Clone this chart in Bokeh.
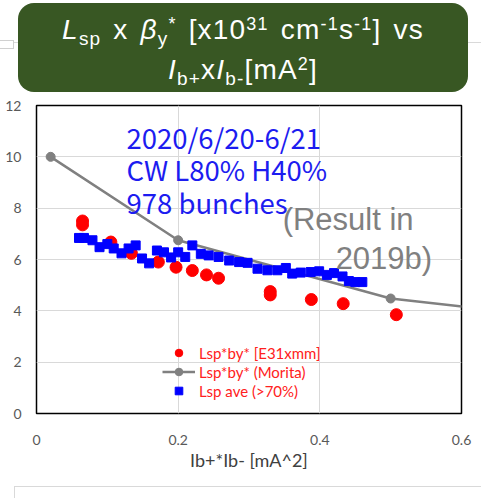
from bokeh.plotting import figure
from bokeh.models import Div, Label, Range1d, FixedTicker
from bokeh.layouts import column
from bokeh.embed import file_html
from bokeh.resources import INLINE

# ---------------- data ----------------
x_ticks = [0, 0.2, 0.4, 0.6]
y_ticks = [0, 2, 4, 6, 8, 10, 12]

red_x = [0.065, 0.065, 0.105, 0.134, 0.172, 0.197, 0.220, 0.240, 0.257, 0.330, 0.330, 0.388, 0.433, 0.508]
red_y = [7.50, 7.35, 6.68, 6.24, 5.90, 5.70, 5.57, 5.40, 5.27, 4.75, 4.62, 4.44, 4.28, 3.85]

morita_x = [0.02, 0.2, 0.5, 0.8]
morita_y = [10.0, 6.75, 4.48, 3.55]

blue_x = [0.060, 0.067, 0.079, 0.089, 0.100, 0.109, 0.120, 0.130, 0.140, 0.149,
          0.159, 0.170, 0.180, 0.190, 0.200, 0.210, 0.220, 0.232, 0.243, 0.257,
          0.272, 0.286, 0.298, 0.312, 0.326, 0.340, 0.352, 0.361, 0.373, 0.387,
          0.399, 0.410, 0.420, 0.432, 0.441, 0.450, 0.460]
blue_y = [6.84, 6.84, 6.75, 6.48, 6.60, 6.43, 6.24, 6.43, 6.55, 6.04,
          5.85, 6.35, 6.28, 6.08, 6.28, 6.10, 6.55, 6.22, 6.16, 6.10,
          5.96, 5.90, 5.87, 5.64, 5.58, 5.58, 5.67, 5.45, 5.49, 5.51,
          5.54, 5.40, 5.47, 5.34, 5.16, 5.12, 5.12]

series_names = ["Lsp*by* [E31xmm]", "Lsp*by* (Morita)", "Lsp ave (>70%)"]
info_lines = ["2020/6/20-6/21", "CW L80% H40%", "978 bunches"]
result_lines = ["(Result in", "2019b)"]
x_title = "Ib+*Ib- [mA^2]"

# ---------------- title box (HTML) ----------------
sub = "font-size:19px;position:relative;top:6px"
sup = "font-size:18px;position:relative;top:-9px"
line1 = (f'<i>L</i><span style="{sub}">sp</span> x <i>&beta;</i><span style="{sub}">y</span>'
         f'<span style="{sup}">*</span> [x10<span style="{sup}">31</span> cm<span style="{sup}">-1</span>'
         f's<span style="{sup}">-1</span>] vs')
line2 = (f'<i>I</i><span style="{sub}">b+</span>x<i>I</i><span style="{sub}">b-</span>'
         f'[mA<span style="{sup}">2</span>]')
lstyle = ("position:absolute;left:0;width:100%;text-align:center;white-space:nowrap;"
          "font-family:'Liberation Sans',Arial,sans-serif;font-size:28px;line-height:34px;color:white;"
          "letter-spacing:1.2px;word-spacing:3px;")
html = (
    '<div style="position:relative;width:481px;height:96px;overflow:hidden;">'
    '<div style="position:absolute;left:0;top:42px;width:481px;height:1px;background:#d9d9d9;"></div>'
    '<div style="position:absolute;left:0;top:40px;width:14px;height:9px;border:1px solid #d0d0d0;'
    'border-left:none;background:white;"></div>'
    '<div style="position:absolute;left:18px;top:3px;width:450px;height:89px;'
    'background:#385723;border-radius:16px;">'
    f'<div style="{lstyle}top:10px;">{line1}</div>'
    f'<div style="{lstyle}top:50px;">{line2}</div>'
    '</div></div>'
)
title_div = Div(text=html, width=481, height=96, margin=0)

foot_html = (
    '<div style="position:relative;width:481px;height:12px;overflow:hidden;">'
    '<div style="position:absolute;left:14px;top:0;width:467px;height:1px;background:#d9d9d9;"></div>'
    '<div style="position:absolute;left:14px;top:0;width:1px;height:12px;background:#d9d9d9;"></div>'
    '</div>'
)
foot_div = Div(text=foot_html, width=481, height=12, margin=0)

# ---------------- figure ----------------
p = figure(width=481, height=390, x_range=Range1d(0, 0.6), y_range=Range1d(0, 12),
           output_backend="svg", toolbar_location=None,
           min_border_left=36, min_border_right=20, min_border_top=9, min_border_bottom=73)
p.outline_line_color = "black"
p.outline_line_width = 1.5
p.background_fill_color = "white"
p.border_fill_color = "white"

p.xaxis.ticker = FixedTicker(ticks=x_ticks)
p.yaxis.ticker = FixedTicker(ticks=y_ticks)
for ax in (p.xaxis, p.yaxis):
    ax.axis_line_color = None
    ax.major_tick_line_color = None
    ax.minor_tick_line_color = None
    ax.major_tick_out = 0
    ax.major_tick_in = 0
    ax.major_label_text_font = "Lato"
    ax.major_label_text_font_size = "14px"
    ax.major_label_text_color = "#595959"
p.xaxis.major_label_standoff = 21
p.yaxis.major_label_standoff = 15
p.xaxis.axis_label = x_title
p.xaxis.axis_label_text_font = "Lato"
p.xaxis.axis_label_text_font_size = "18px"
p.xaxis.axis_label_text_font_style = "normal"
p.xaxis.axis_label_text_color = "#404040"
p.xaxis.axis_label_standoff = 1

p.xgrid.grid_line_color = "#d9d9d9"
p.ygrid.grid_line_color = "#d9d9d9"

p.scatter(red_x, red_y, size=12, color="#ff0000", marker="circle", legend_label=series_names[0])
p.line(morita_x, morita_y, line_color="#808080", line_width=2.5, legend_label=series_names[1])
p.scatter(morita_x, morita_y, size=9, color="#808080", marker="circle", legend_label=series_names[1])
p.scatter(blue_x, blue_y, size=9, color="#0000ff", marker="square", legend_label=series_names[2])

lg = p.legend[0]
lg.location = (126, 13)
lg.padding = 0
lg.margin = 0
lg.spacing = 0
lg.label_height = 19
lg.glyph_height = 19
lg.glyph_width = 33
lg.label_standoff = 4
lg.background_fill_alpha = 0
lg.border_line_alpha = 0
lg.label_text_color = "#ff2020"
lg.label_text_font = "Lato"
lg.label_text_font_size = "15px"

info_y = [10.76, 9.53, 8.25]
for t, yy in zip(info_lines, info_y):
    p.add_layout(Label(x=0.127, y=yy, text=t, text_color="#1c1cf0",
                       text_font="Noto Sans CJK JP", text_font_size="27.5px",
                       text_baseline="alphabetic"))
res_x = [0.3475, 0.4223]
res_y = [7.56, 6.04]
for t, xx, yy in zip(result_lines, res_x, res_y):
    p.add_layout(Label(x=xx, y=yy, text=t, text_color="#808080",
                       text_font="Liberation Sans", text_font_size="31px",
                       text_baseline="alphabetic"))

layout = column(title_div, p, foot_div, spacing=0)
open("out.html", "w").write(file_html(layout, INLINE))
